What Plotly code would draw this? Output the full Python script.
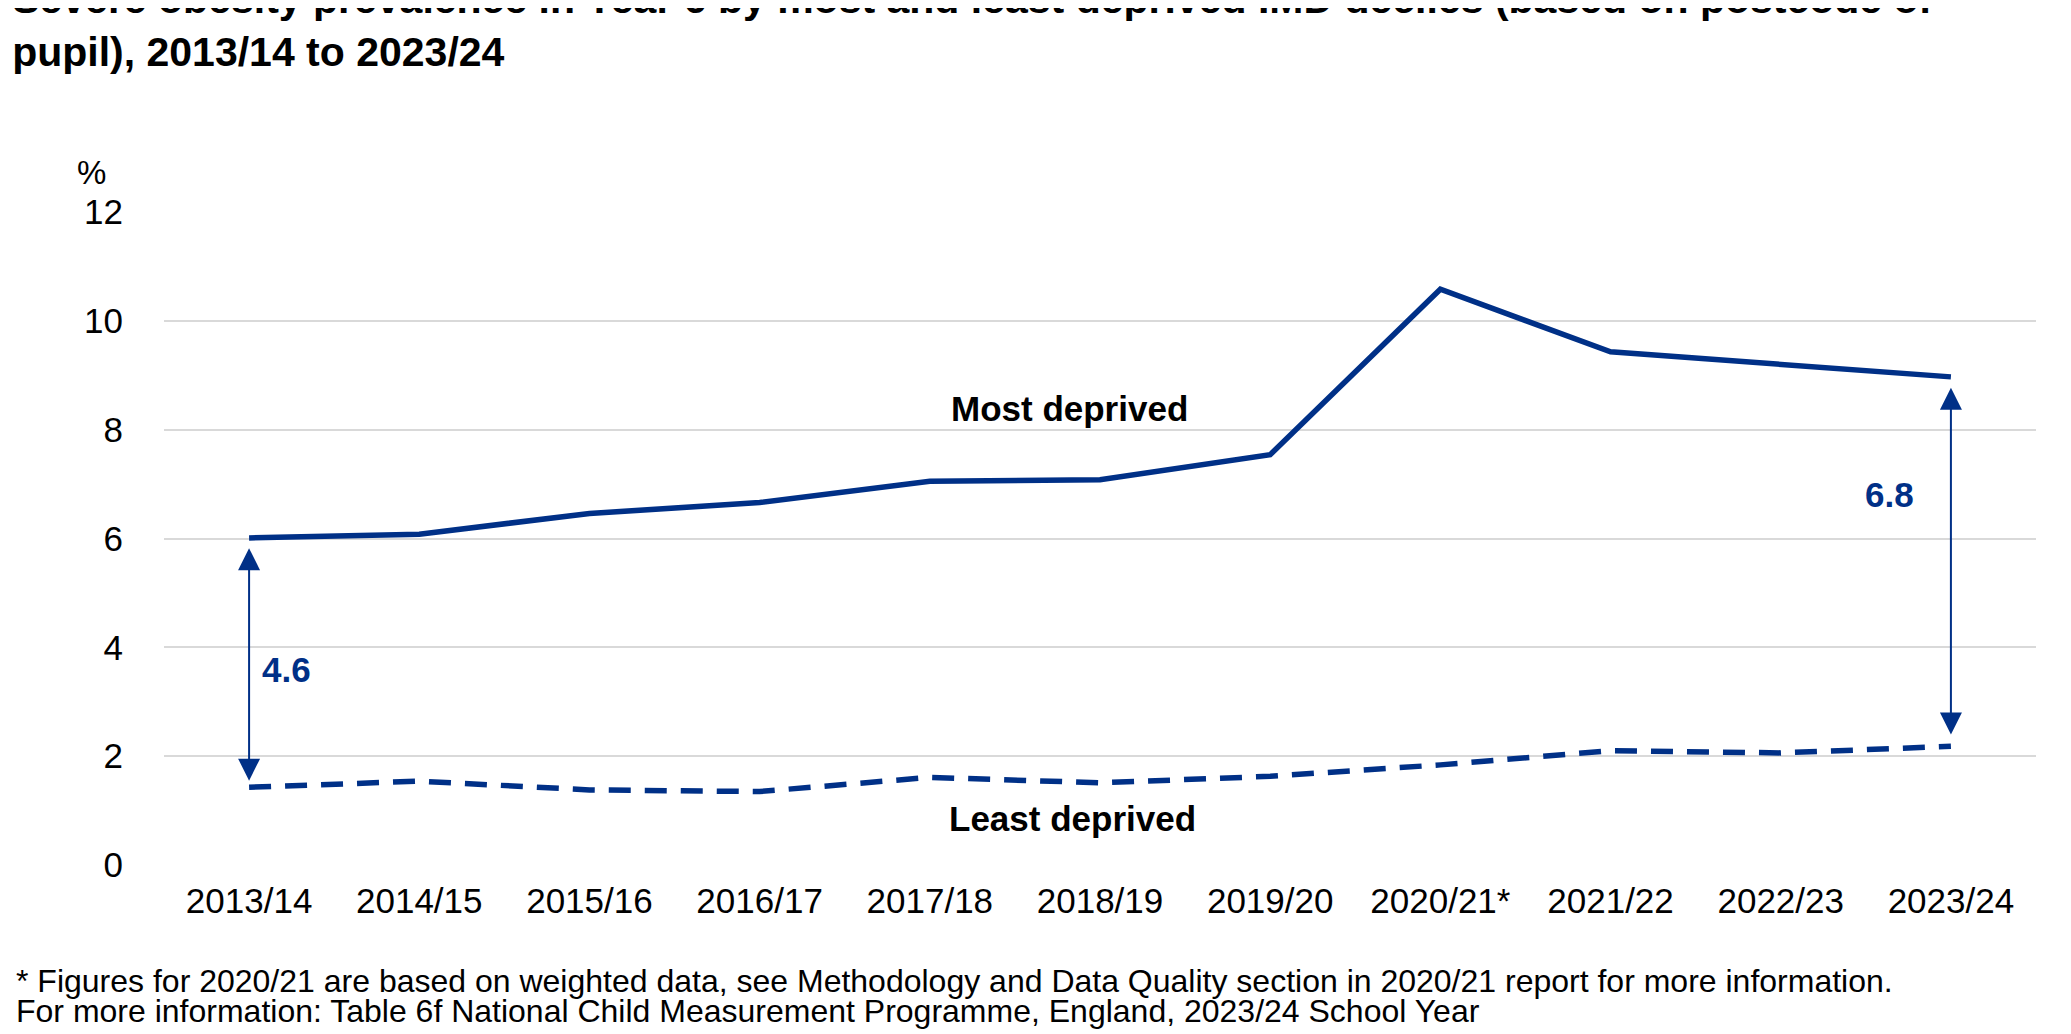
import plotly.graph_objects as go

years = ["2013/14","2014/15","2015/16","2016/17","2017/18","2018/19","2019/20","2020/21*","2021/22","2022/23","2023/24"]
most = [6.01,6.08,6.46,6.66,7.05,7.08,7.54,10.58,9.43,9.20,8.97]
least = [1.43,1.54,1.38,1.35,1.61,1.51,1.63,1.84,2.10,2.06,2.18]
col = "#003087"
F = "Liberation Sans, Arial"

fig = go.Figure()
fig.add_trace(go.Scatter(x=years, y=most, mode="lines", line=dict(color=col, width=5.5)))
fig.add_trace(go.Scatter(x=years, y=least, mode="lines", line=dict(color=col, width=5.5, dash="22px,14px")))

ann = []
def arrow(x, y0, y1):
    ann.append(dict(x=x, y=y1, ax=x, ay=y0, xref="x", yref="y", axref="x", ayref="y",
                    showarrow=True, arrowhead=2, startarrowhead=2, arrowside="end+start",
                    arrowsize=2.2, startarrowsize=2.2, arrowwidth=2, arrowcolor=col, text=""))
arrow(0, 5.85, 1.55)
arrow(10, 8.8, 2.4)
ann += [
    dict(x=4.82, y=8.39, xref="x", yref="y", text="<b>Most deprived</b>", showarrow=False, font=dict(size=35, color="black", family=F)),
    dict(x=4.84, y=0.85, xref="x", yref="y", text="<b>Least deprived</b>", showarrow=False, font=dict(size=35, color="black", family=F)),
    dict(x=0.22, y=3.6, xref="x", yref="y", text="<b>4.6</b>", showarrow=False, font=dict(size=35, color=col, family=F)),
    dict(x=9.64, y=6.8, xref="x", yref="y", text="<b>6.8</b>", showarrow=False, font=dict(size=35, color=col, family=F)),
    dict(x=(67-156)/1872, y=(857-143)/654, xref="paper", yref="paper", text="%", showarrow=False, font=dict(size=33, color="black", family=F)),
    dict(x=-150/1872, y=(857-993)/654, xref="paper", yref="paper", xanchor="left", showarrow=False,
         text="* Figures for 2020/21 are based on weighted data, see Methodology and Data Quality section in 2020/21 report for more information.",
         font=dict(size=32, color="black", family=F)),
    dict(x=-150/1872, y=(857-1023)/654, xref="paper", yref="paper", xanchor="left", showarrow=False,
         text="For more information: Table 6f National Child Measurement Programme, England, 2023/24 School Year",
         font=dict(size=32, color="black", family=F)),
]

fig.update_layout(
    width=2071, height=1034, paper_bgcolor="white", plot_bgcolor="white", showlegend=False,
    margin=dict(l=156, r=43, t=204, b=177),
    title=dict(text="<b>Severe obesity prevalence in Year 6 by most and least deprived IMD deciles (based on postcode of<br>pupil), 2013/14 to 2023/24</b>",
               x=0.002, xanchor="left", yref="container", y=0.995, yanchor="top", font=dict(size=41, color="black", family=F)),
    annotations=ann,
)
fig.update_xaxes(range=[-0.5, 10.5], showgrid=False, showline=False, ticks="", tickfont=dict(size=35, color="black", family=F), ticklabelstandoff=12)
fig.update_yaxes(range=[0,12], dtick=2, showgrid=True, gridcolor="#d9d9d9", gridwidth=1.5, zeroline=False,
                 ticks="", tickfont=dict(size=35, color="black", family=F), ticklabelstandoff=40)
fig.write_html("out.html")
